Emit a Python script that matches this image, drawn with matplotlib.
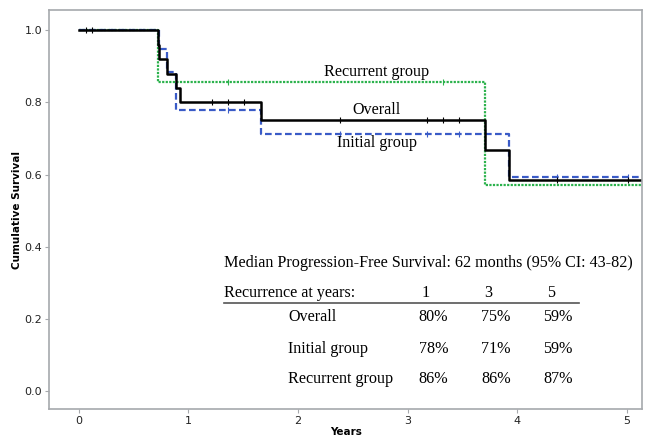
import numpy as np
import matplotlib
matplotlib.use("Agg")
from matplotlib import pyplot as plt

# Kaplan-Meier step data (time in years, survival after the step)
overall_t = [0, 0.72, 0.73, 0.81, 0.89, 0.92, 1.66, 3.71, 3.93, 5.2]
overall_s = [1.0, 0.96, 0.92, 0.88, 0.84, 0.80, 0.752, 0.669, 0.586, 0.586]
initial_t = [0, 0.73, 0.81, 0.89, 1.66, 3.93, 5.2]
initial_s = [1.0, 0.947, 0.884, 0.778, 0.713, 0.593, 0.593]
recur_t = [0, 0.72, 3.71, 5.2]
recur_s = [1.0, 0.856, 0.571, 0.571]

# censor marks
overall_cens = [0.07, 0.12, 1.22, 1.36, 1.51, 2.38, 3.18, 3.32, 3.47, 4.36, 5.01]
initial_cens = [1.36, 2.38, 3.18, 3.47, 4.36, 5.01]
recur_cens = [1.36, 3.32]

years = ["1", "3", "5"]
rows = ["Overall", "Initial group", "Recurrent group"]
rates = [["80%", "75%", "59%"],
         ["78%", "71%", "59%"],
         ["86%", "86%", "87%"]]

green = "#2bb24c"
blue = "#3a5bc7"
grey = "#a6a9ad"

fig = plt.figure(figsize=(6.46, 4.4), dpi=100)
ax = fig.add_axes([0.076, 0.0705, 0.918, 0.9065])

def km(t, s, cens, color, ls, lw):
	ax.step(t, s, where='post', color=color, linestyle=ls, linewidth=lw)
	idx = np.searchsorted(t, cens, side='right') - 1
	ax.plot(cens, np.array(s)[idx], linestyle='none', marker='|', color=color, markersize=4, markeredgewidth=0.8)

km(recur_t, recur_s, recur_cens, green, (0, (1, 0.6)), 1.6)
km(initial_t, initial_s, initial_cens, blue, (0, (3, 1.5)), 1.6)
km(overall_t, overall_s, overall_cens, "black", "-", 1.8)

ax.set_xlim(-0.27, 5.14)
ax.set_ylim(-0.05, 1.056)
ax.set_xticks([0, 1, 2, 3, 4, 5])
ax.set_yticks([0.0, 0.2, 0.4, 0.6, 0.8, 1.0])
ax.set_yticklabels(["0.0", "0.2", "0.4", "0.6", "0.8", "1.0"])
for sp in ax.spines.values():
	sp.set_color(grey)
	sp.set_linewidth(1.2)
ax.tick_params(colors=grey, labelcolor="#222222", labelsize=8, length=3, width=0.8, pad=2)
ax.set_xlabel("Years", fontsize=7.5, fontweight='bold', labelpad=1)
ax.set_ylabel("Cumulative Survival", fontsize=7.5, fontweight='bold', labelpad=2)

serif = "Liberation Serif"
fs = 11.6
ax.text(2.72, 0.862, "Recurrent group", family=serif, fontsize=fs, ha='center', va='bottom')
ax.text(2.72, 0.756, "Overall", family=serif, fontsize=fs, ha='center', va='bottom')
ax.text(2.72, 0.71, "Initial group", family=serif, fontsize=fs, ha='center', va='top')

# summary table in data coordinates
x_lab = 1.33
x_row = 1.91
x_col = [3.1, 3.67, 4.24]
ax.text(x_lab, 0.355, "Median Progression-Free Survival: 62 months (95% CI: 43-82)", family=serif, fontsize=fs, ha='left', va='center')
ax.text(x_lab, 0.272, "Recurrence at years:", family=serif, fontsize=fs, ha='left', va='center')
for x, yr in zip(x_col, years):
	ax.text(x + 0.03, 0.272, yr, family=serif, fontsize=fs, ha='left', va='center')
ax.plot([x_lab, 4.56], [0.244, 0.244], color="#555555", linewidth=1.2)
row_y = [0.205, 0.117, 0.033]
for y, name, vals in zip(row_y, rows, rates):
	ax.text(x_row, y, name, family=serif, fontsize=fs, ha='left', va='center')
	for x, v in zip(x_col, vals):
		ax.text(x, y, v, family=serif, fontsize=fs, ha='left', va='center')

fig.savefig("out.png", dpi=100)
